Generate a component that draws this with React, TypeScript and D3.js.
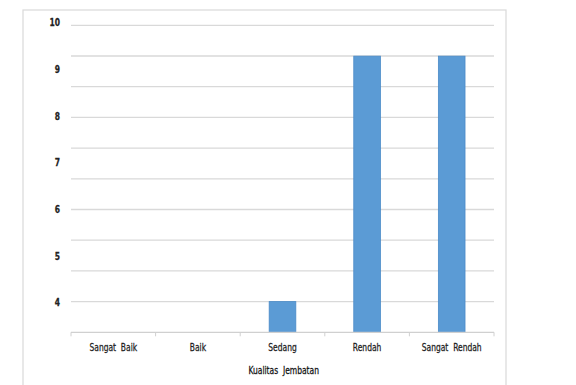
import React from "react";
import * as d3 from "d3";

const categories = ["Sangat Baik", "Baik", "Sedang", "Rendah", "Sangat Rendah"];
const values: (number | null)[] = [null, null, 4, 9.33, 9.33];
const tickLabels = [4, 5, 6, 7, 8, 9, 10];
const gridValues = [10, 9.333, 8.667, 8, 7.333, 6.667, 6, 5.333, 4.667, 4];
const axisTitle = "Kualitas Jembatan";

const W = 576;
const H = 385;
const FONT = "'DejaVu Sans Condensed', 'DejaVu Sans', sans-serif";

function NarrowText(props: { x: number; y: number; anchor: string; size: number; weight?: string; fill: string; children: React.ReactNode }) {
  const sx = 0.8;
  return (
    <g transform={`translate(${props.x},${props.y}) scale(${sx},1)`}>
      <text
        x={0}
        y={0}
        dy="0.35em"
        textAnchor={props.anchor}
        fontFamily={FONT}
        fontSize={props.size}
        fontWeight={props.weight || "normal"}
        fill={props.fill}
        stroke={props.fill}
        strokeWidth={0.25}
        style={{ fontStretch: "condensed", wordSpacing: "3px" }}
      >
        {props.children}
      </text>
    </g>
  );
}

export default function App() {
  const left = 71;
  const right = 494;
  const bottom = 332.3;
  const x = d3.scaleBand<string>().domain(categories).range([left, right]).paddingInner(0.685).paddingOuter(0.3425);
  const y = d3.scaleLinear().domain([10 / 3, 10]).range([bottom, 25.3]);
  const labelY = d3.scaleLinear().domain([4, 10]).range([302.7, 22.7]);
  const bandEdges = d3.range(categories.length + 1).map((i) => left + ((right - left) / categories.length) * i);

  return (
    <svg width={W} height={H} style={{ position: "absolute", left: 0, top: 0, background: "#fff" }}>
      <rect x={23} y={10} width={483} height={H} fill="#fff" stroke="#d9d9d9" strokeWidth={1.2} />
      {gridValues.map((g, i) => (
        <line key={i} x1={left} x2={right} y1={y(g)} y2={y(g)} stroke="#d9d9d9" strokeWidth={1.3} />
      ))}
      {categories.map((c, i) =>
        values[i] == null ? null : (
          <rect
            key={c}
            x={x(c)}
            y={y(values[i] as number)}
            width={x.bandwidth()}
            height={bottom - y(values[i] as number)}
            fill="#5b9bd5"
            stroke="#4a8ac8"
            strokeWidth={0.8}
          />
        )
      )}
      <line x1={left} x2={right} y1={bottom} y2={bottom} stroke="#d0d0d0" strokeWidth={1.3} />
      {bandEdges.map((e, i) => (
        <line key={i} x1={e} x2={e} y1={bottom} y2={bottom + 4} stroke="#d0d0d0" strokeWidth={1} />
      ))}
      {tickLabels.map((t) => (
        <NarrowText key={t} x={60} y={labelY(t)} anchor="end" size={10.5} weight="bold" fill="#222">
          {t}
        </NarrowText>
      ))}
      {categories.map((c) => (
        <NarrowText key={c} x={(x(c) as number) + x.bandwidth() / 2} y={347} anchor="middle" size={10.5} fill="#222">
          {c}
        </NarrowText>
      ))}
      <NarrowText x={283.7} y={370.7} anchor="middle" size={10.5} fill="#111">
        {axisTitle}
      </NarrowText>
    </svg>
  );
}
